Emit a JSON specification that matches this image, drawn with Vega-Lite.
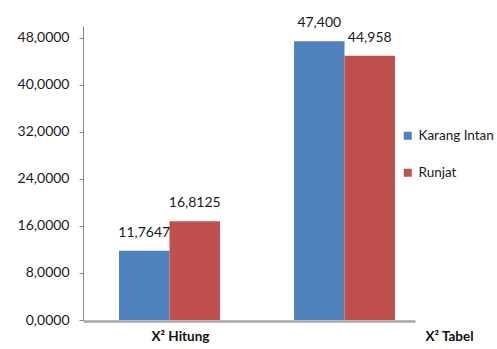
{
  "$schema": "https://vega.github.io/schema/vega-lite/v6.json",
  "width": 332,
  "height": 294,
  "autosize": {"type": "none"},
  "padding": {"left": 83, "top": 26, "right": 82, "bottom": 29},
  "config": {
    "locale": {"number": {"decimal": ",", "thousands": ".", "grouping": [3], "currency": ["", ""]}},
    "view": {"stroke": null},
    "font": "Lato"
  },
  "data": {
    "values": [
      {"uji": "X² Hitung", "lokasi": "Karang Intan", "nilai": 11.7647},
      {"uji": "X² Hitung", "lokasi": "Runjat", "nilai": 16.8125},
      {"uji": "X² Tabel", "lokasi": "Karang Intan", "nilai": 47.4},
      {"uji": "X² Tabel", "lokasi": "Runjat", "nilai": 44.958}
    ]
  },
  "encoding": {
    "x": {
      "field": "uji",
      "type": "nominal",
      "sort": null,
      "scale": {"paddingInner": 0.423, "paddingOuter": 0.16, "align": 0.643},
      "axis": {
        "title": null,
        "ticks": false,
        "labelAngle": 0,
        "domainColor": "#a6a6a6",
        "domainWidth": 2.5,
        "offset": 1,
        "labelFontWeight": "bold",
        "labelFontSize": 13.5,
        "labelColor": "#111111",
        "labelPadding": 8,
        "labelOffset": {"condition": {"test": "datum.value === 'X² Tabel'", "value": 105}, "value": 11}
      }
    },
    "xOffset": {"field": "lokasi", "sort": null},
    "y": {
      "field": "nilai",
      "type": "quantitative",
      "scale": {"domain": [0, 50], "nice": false},
      "axis": {
        "title": null,
        "grid": false,
        "values": [0, 8, 16, 24, 32, 40, 48],
        "format": ".4f",
        "domainColor": "#868686",
        "tickColor": "#868686",
        "tickSize": 4,
        "labelPadding": 10,
        "labelFontSize": 14,
        "labelColor": "#1a1a1a"
      }
    }
  },
  "layer": [
    {
      "mark": {"type": "bar"},
      "encoding": {
        "color": {
          "field": "lokasi",
          "type": "nominal",
          "sort": null,
          "scale": {"domain": ["Karang Intan", "Runjat"], "range": ["#4f81bd", "#c0504d"]},
          "legend": {
            "title": null,
            "orient": "none",
            "legendX": 318,
            "legendY": 103,
            "padding": 0,
            "symbolType": "square",
            "symbolSize": 64,
            "symbolStrokeWidth": 0,
            "labelFontSize": 13.5,
            "labelColor": "#1a1a1a",
            "labelOffset": 4,
            "rowPadding": 22
          }
        }
      }
    },
    {
      "mark": {"type": "text", "baseline": "alphabetic", "dy": -14, "fontSize": 14, "color": "#1a1a1a"},
      "encoding": {
        "text": {
          "condition": {"test": "datum.uji === 'X² Tabel'", "field": "nilai", "type": "quantitative", "format": ".3f"},
          "field": "nilai",
          "type": "quantitative",
          "format": ".4f"
        }
      }
    }
  ]
}
